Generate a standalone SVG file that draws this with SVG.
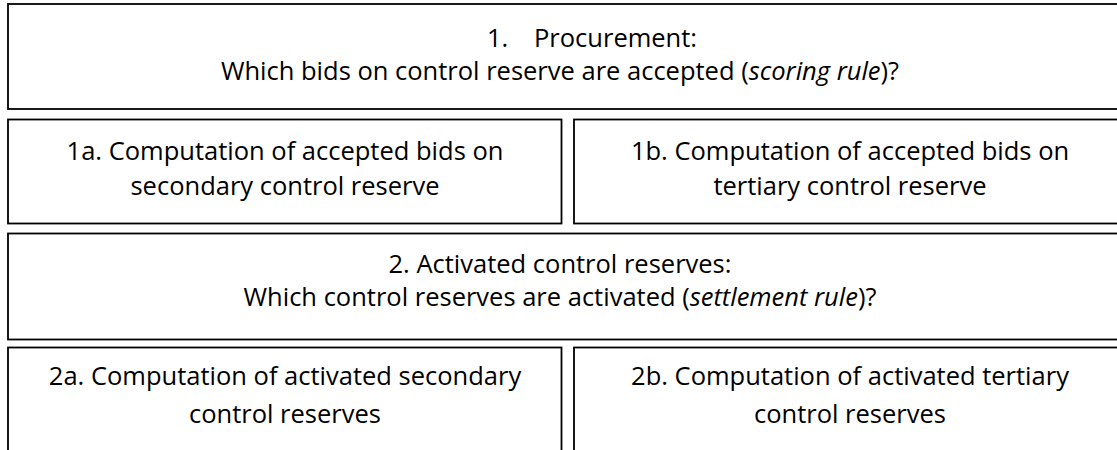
<svg xmlns="http://www.w3.org/2000/svg" width="1117" height="450" viewBox="0 0 1117 450">
<style>
.box{fill:#fff;stroke:#000;stroke-width:1.8}
text{font-family:"Open Sans","Liberation Sans",sans-serif;font-size:25.5px;fill:#000}
.c{text-anchor:middle}
.i{font-style:italic}
</style>
<rect width="1117" height="450" fill="#fff"/>
<g id="n1">
<rect class="box" x="8" y="4" width="1118" height="105"/>
<text x="487" y="47">1.</text>
<text x="534" y="47">Procurement:</text>
<text class="c" x="560" y="80">Which bids on control reserve are accepted (<tspan class="i">scoring rule</tspan>)?</text>
</g>
<g id="n1a">
<rect class="box" x="8" y="119.5" width="553.5" height="104"/>
<text class="c" x="285" y="160">1a. Computation of accepted bids on</text>
<text class="c" x="285" y="195">secondary control reserve</text>
</g>
<g id="n1b">
<rect class="box" x="574" y="119.5" width="552" height="104"/>
<text class="c" x="850" y="160">1b. Computation of accepted bids on</text>
<text class="c" x="850" y="195">tertiary control reserve</text>
</g>
<g id="n2">
<rect class="box" x="8" y="233.5" width="1118" height="106"/>
<text class="c" x="560" y="273">2. Activated control reserves:</text>
<text class="c" x="560" y="306">Which control reserves are activated (<tspan class="i">settlement rule</tspan>)?</text>
</g>
<g id="n2a">
<rect class="box" x="8" y="347.5" width="553.5" height="120"/>
<text class="c" x="285" y="385">2a. Computation of activated secondary</text>
<text class="c" x="285" y="423">control reserves</text>
</g>
<g id="n2b">
<rect class="box" x="574" y="347.5" width="552" height="120"/>
<text class="c" x="850" y="385">2b. Computation of activated tertiary</text>
<text class="c" x="850" y="423">control reserves</text>
</g>
<g id="connectors"/>
</svg>
